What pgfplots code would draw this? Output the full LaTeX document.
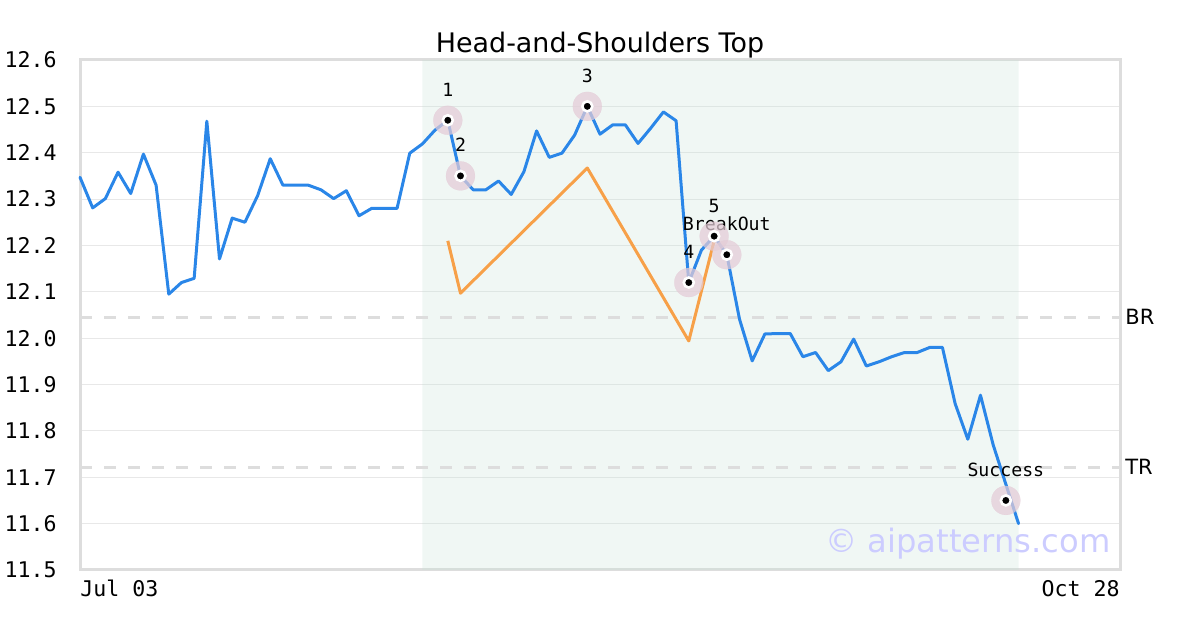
\documentclass[border=0pt]{standalone}
\usepackage{fontspec}
\setmainfont{DejaVu Sans}
\newfontfamily\mono{DejaVu Sans Mono}
\usepackage{pgfplots}
\usepackage{pgfplotstable}
\pgfplotsset{compat=1.18}

\definecolor{priceblue}{RGB}{42,134,232}
\definecolor{patorange}{RGB}{247,160,72}
\definecolor{zonemint}{RGB}{195,225,213}
\definecolor{gridgray}{RGB}{232,232,232}
\definecolor{bordergray}{RGB}{221,221,221}
\definecolor{halo}{RGB}{228,204,215}
\definecolor{wmark}{RGB}{204,204,255}

\tikzset{lbl/.style={anchor=base, yshift=12pt, inner sep=0pt, font=\mono\fontsize{9.1}{11}\selectfont}}

% closing prices, one per trading day
\pgfplotstableread{
i   p
0   12.347
1   12.281
2   12.301
3   12.358
4   12.312
5   12.397
6   12.330
7   12.095
8   12.120
9   12.129
10  12.468
11  12.171
12  12.259
13  12.250
14  12.307
15  12.387
16  12.330
17  12.330
18  12.330
19  12.320
20  12.301
21  12.318
22  12.264
23  12.280
24  12.280
25  12.280
26  12.399
27  12.419
28  12.449
29  12.470
30  12.350
31  12.320
32  12.320
33  12.339
34  12.310
35  12.359
36  12.447
37  12.390
38  12.399
39  12.438
40  12.500
41  12.440
42  12.460
43  12.460
44  12.420
45  12.453
46  12.488
47  12.469
48  12.120
49  12.190
50  12.220
51  12.180
52  12.041
53  11.951
54  12.009
55  12.010
56  12.010
57  11.960
58  11.969
59  11.930
60  11.949
61  11.998
62  11.940
63  11.949
64  11.960
65  11.969
66  11.969
67  11.980
68  11.980
69  11.859
70  11.782
71  11.877
72  11.770
73  11.685
74  11.600
}\prices

% pattern outline
\pgfplotstableread{
i   p
29  12.210
30  12.097
40  12.367
48  11.994
50  12.210
}\outline

% key points of the pattern
\pgfplotstableread{
i   p
29  12.47
30  12.35
40  12.50
48  12.12
50  12.22
51  12.18
73  11.65
}\keypts

\begin{document}
\begin{tikzpicture}
\path (0,0) rectangle (600pt,315pt);
\begin{axis}[
  at={(40pt,30pt)}, anchor=south west,
  width=520pt, height=255pt, scale only axis,
  xmin=0, xmax=82, ymin=11.5, ymax=12.6,
  clip=false,
  ytick={11.5,11.6,11.7,11.8,11.9,12.0,12.1,12.2,12.3,12.4,12.5,12.6},
  yticklabel={\pgfmathprintnumber[fixed,fixed zerofill,precision=1]{\tick}},
  /pgf/number format/assume math mode=true,
  ymajorgrids,
  grid style={draw=gridgray, line width=0.5pt},
  axis line style={draw=bordergray, line width=1.5pt},
  major tick length=0pt,
  tick label style={font=\mono\fontsize{10.8}{12}\selectfont, inner sep=0pt, text=black},
  yticklabel style={anchor=east, xshift=-11.5pt},
  xtick={0}, xticklabels={Jul 03},
  xticklabel style={anchor=north west, yshift=-5pt},
  extra x ticks={82}, extra x tick labels={Oct 28},
  extra x tick style={grid=none, xticklabel style={anchor=north east}},
  title={Head-and-Shoulders Top},
  title style={font=\fontsize{13.45}{15}\selectfont, anchor=base, at={(0.5,1)}, yshift=-2.5pt, inner sep=0pt},
]
% pattern zone, translucent so the grid shows through
\addplot[draw=none, fill=zonemint, fill opacity=0.25]
  coordinates {(27,11.5) (74,11.5) (74,12.6) (27,12.6) (27,11.5)};

% breakout and target levels
\addplot[bordergray, line width=1.5pt, dash pattern=on 6pt off 6pt]
  coordinates {(0,12.045) (82,12.045)};
\addplot[bordergray, line width=1.5pt, dash pattern=on 6pt off 6pt]
  coordinates {(0,11.722) (82,11.722)};

\addplot[priceblue, line width=1.5pt, line join=round, line cap=round, mark=none]
  table[x=i, y=p] {\prices};
\addplot[patorange, line width=1.5pt, line join=round, mark=none]
  table[x=i, y=p] {\outline};

% key point markers: translucent halo, then a black dot with a white ring
\addplot[halo, only marks, mark=*, mark size=7.25pt,
  mark options={solid, draw=halo, fill=halo, line width=0.1pt, opacity=0.72}]
  table[x=i, y=p] {\keypts};
\addplot[black, only marks, mark=*, mark size=2.5pt,
  mark options={solid, draw=white, fill=black, line width=1.3pt}]
  table[x=i, y=p] {\keypts};

\node[lbl] at (axis cs:29,12.47) {1};
\node[lbl] at (axis cs:30,12.35) {2};
\node[lbl] at (axis cs:40,12.50) {3};
\node[lbl] at (axis cs:48,12.12) {4};
\node[lbl] at (axis cs:50,12.22) {5};
\node[lbl] at (axis cs:51,12.18) {BreakOut};
\node[lbl] at (axis cs:73,11.65) {Success};

\node[anchor=west, inner sep=0pt, xshift=2.5pt, font=\fontsize{10.5}{12}\selectfont]
  at (axis cs:82,12.045) {BR};
\node[anchor=west, inner sep=0pt, xshift=2.5pt, font=\fontsize{10.5}{12}\selectfont]
  at (axis cs:82,11.722) {TR};

\node[anchor=base east, inner sep=0pt, xshift=-4.5pt, yshift=8.5pt,
  text=wmark, font=\fontsize{16.1}{18}\selectfont]
  at (rel axis cs:1,0) {© aipatterns.com};
\end{axis}
\end{tikzpicture}
\end{document}
